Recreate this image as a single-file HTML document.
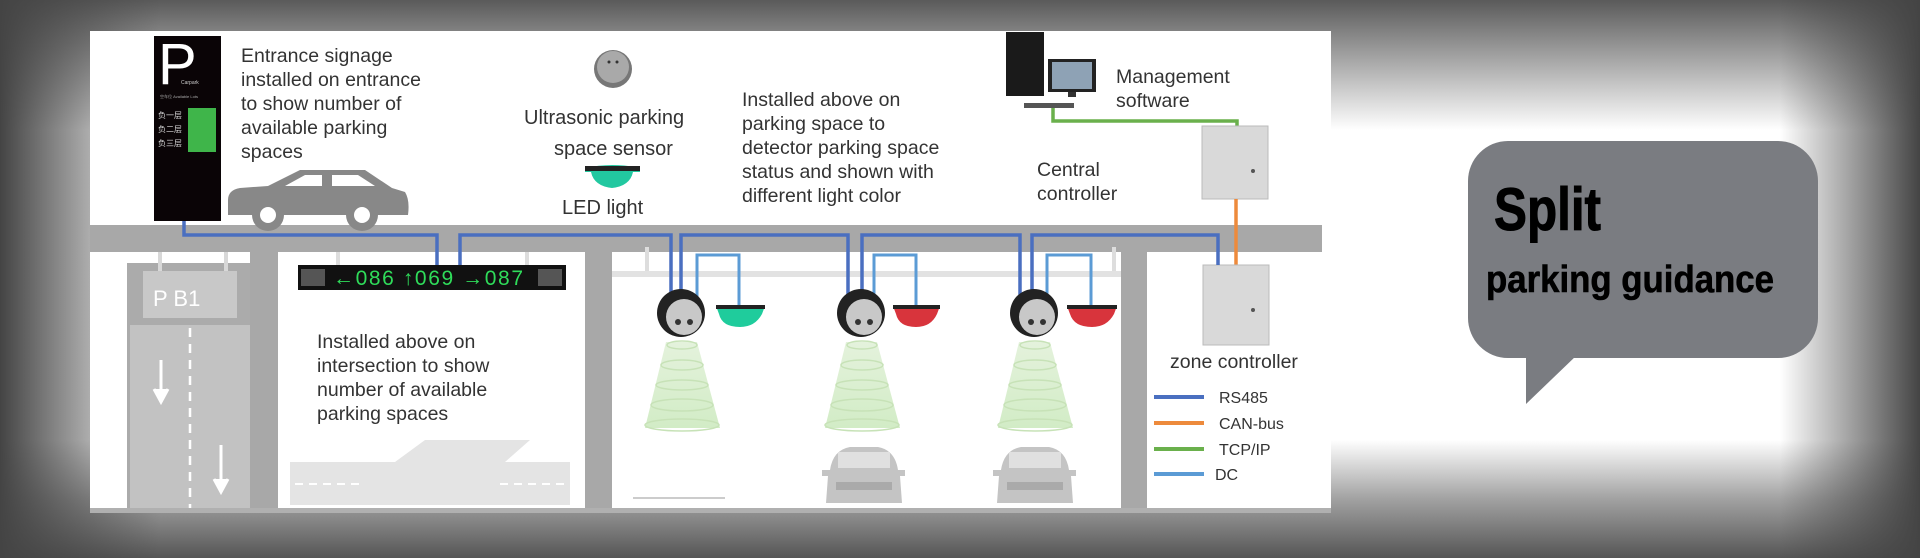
<!DOCTYPE html>
<html><head><meta charset="utf-8"><style>
html,body{margin:0;padding:0;width:1920px;height:558px;overflow:hidden;background:#fff}
svg{display:block}
text{font-family:"Liberation Sans",sans-serif}
</style></head><body>
<svg width="1920" height="558" viewBox="0 0 1920 558" xmlns="http://www.w3.org/2000/svg">
<defs>
<linearGradient id="gt" x1="0" y1="0" x2="0" y2="1"><stop offset="0" stop-color="#5a5a5a"/><stop offset="1" stop-color="#5a5a5a" stop-opacity="0"/></linearGradient>
<linearGradient id="gb" x1="0" y1="1" x2="0" y2="0"><stop offset="0" stop-color="#555"/><stop offset="0.5" stop-color="#555" stop-opacity="0.55"/><stop offset="1" stop-color="#555" stop-opacity="0"/></linearGradient>
<linearGradient id="gl" x1="0" y1="0" x2="1" y2="0"><stop offset="0" stop-color="#444"/><stop offset="1" stop-color="#444" stop-opacity="0"/></linearGradient>
<linearGradient id="gr" x1="1" y1="0" x2="0" y2="0"><stop offset="0" stop-color="#444"/><stop offset="1" stop-color="#444" stop-opacity="0"/></linearGradient>
<linearGradient id="cone" x1="0" y1="0" x2="0" y2="1"><stop offset="0" stop-color="#e4f2dc"/><stop offset="1" stop-color="#d2ecc6"/></linearGradient>
</defs>
<rect width="1920" height="558" fill="#fff"/>
<rect x="0" y="0" width="1920" height="130" fill="url(#gt)"/>
<rect x="0" y="440" width="1920" height="118" fill="url(#gb)"/>
<rect x="0" y="0" width="160" height="558" fill="url(#gl)"/>
<rect x="1780" y="0" width="140" height="558" fill="url(#gr)"/>

<rect x="90" y="31" width="1241" height="482" fill="#fff"/>
<rect x="90" y="225" width="1232" height="27" fill="#a8a8a8"/>
<rect x="90" y="252" width="160" height="11" fill="#fff"/>
<rect x="127" y="263" width="123" height="250" fill="#ababab"/>
<rect x="130" y="325" width="120" height="188" fill="#c2c2c2"/>
<rect x="158" y="252" width="4" height="20" fill="#d8d8d8"/><rect x="224" y="252" width="4" height="20" fill="#d8d8d8"/>
<rect x="143" y="271" width="94" height="47" fill="#c8c8c8"/>
<text x="153" y="306" font-size="22" fill="#fff">P  B1</text>
<line x1="190" y1="328" x2="190" y2="512" stroke="#fff" stroke-width="2.5" stroke-dasharray="9,7"/>
<path d="M161 360V395M154 389L161 402L168 389" stroke="#fff" stroke-width="3" fill="#fff"/>
<path d="M221 445V485M214 479L221 492L228 479" stroke="#fff" stroke-width="3" fill="#fff"/>
<rect x="250" y="252" width="28" height="261" fill="#a8a8a8"/>
<rect x="585" y="252" width="27" height="261" fill="#a8a8a8"/>
<rect x="1121" y="252" width="26" height="261" fill="#a8a8a8"/>
<rect x="1322" y="225" width="9" height="288" fill="#fff"/>
<rect x="612" y="271" width="509" height="6" fill="#e2e2e2"/>
<rect x="645" y="247" width="4" height="24" fill="#ddd"/><rect x="1112" y="247" width="4" height="24" fill="#ddd"/>
<rect x="336" y="252" width="4" height="14" fill="#ddd"/><rect x="525" y="252" width="4" height="14" fill="#ddd"/>
<rect x="90" y="508" width="1241" height="5" fill="#b0b0b0"/>
<path d="M290 462 L395 462 L425 440 L530 440 L505 462 L570 462 L570 505 L485 505 L455 505 L290 505Z" fill="#e4e4e4"/>
<line x1="295" y1="484" x2="360" y2="484" stroke="#fff" stroke-width="2" stroke-dasharray="8,6"/>
<line x1="500" y1="484" x2="568" y2="484" stroke="#fff" stroke-width="2" stroke-dasharray="8,6"/>

<rect x="154" y="36" width="67" height="185" fill="#0a0406"/>
<text x="158" y="84" font-size="58" fill="#fff">P</text>
<text x="181" y="84" font-size="5" fill="#ccc">Carpark</text>
<text x="160" y="98" font-size="4" fill="#aaa">空车位 Available Lots</text>
<rect x="188" y="108" width="28" height="44" fill="#3fb54a"/>
<text x="158" y="118" font-size="8" fill="#ddd">负一层</text>
<text x="158" y="132" font-size="8" fill="#ddd">负二层</text>
<text x="158" y="146" font-size="8" fill="#ddd">负三层</text>
<g font-size="19.5" fill="#333">
<text x="241" y="62">Entrance signage</text>
<text x="241" y="86">installed on entrance</text>
<text x="241" y="110">to show number of</text>
<text x="241" y="134">available parking</text>
<text x="241" y="158">spaces</text>
</g>
<path d="M228 200 Q228 190 240 188 L268 186 L300 170 L365 170 L392 188 L405 192 Q410 200 408 215 L228 215Z" fill="#888"/>
<path d="M285 186 L305 175 L322 175 L322 186Z M332 175 L358 175 L375 186 L332 186Z" fill="#fff"/>
<circle cx="268" cy="215" r="16" fill="#888"/><circle cx="268" cy="215" r="8" fill="#fff"/>
<circle cx="362" cy="215" r="16" fill="#888"/><circle cx="362" cy="215" r="8" fill="#fff"/>

<circle cx="613" cy="69" r="19" fill="#777"/><circle cx="613" cy="67" r="16" fill="#a9a9a9"/>
<circle cx="609" cy="62" r="1.5" fill="#333"/><circle cx="617" cy="62" r="1.5" fill="#333"/>
<g font-size="20" fill="#333">
<text x="524" y="124">Ultrasonic parking</text>
<text x="554" y="155">space sensor</text>
<text x="562" y="214">LED light</text>
</g>
<path d="M585 168 Q612 162 640 168 L640 172 L633 172 Q630 186 612 188 Q594 186 591 172 L585 172Z" fill="#22c8a0"/>
<rect x="585" y="166" width="55" height="5" fill="#222"/>
<g font-size="19.5" fill="#333">
<text x="742" y="106">Installed above on</text>
<text x="742" y="130">parking space to</text>
<text x="742" y="154">detector parking space</text>
<text x="742" y="178">status and shown with</text>
<text x="742" y="202">different light color</text>
</g>

<rect x="298" y="265" width="268" height="25" fill="#111"/>
<text x="333" y="285" font-size="21" fill="#2fdc5a" font-family="Liberation Mono,monospace" textLength="190">←086 ↑069 →087</text>
<rect x="301" y="269" width="24" height="17" fill="#555"/><rect x="538" y="269" width="24" height="17" fill="#555"/>
<g font-size="19.5" fill="#333">
<text x="317" y="348">Installed above on</text>
<text x="317" y="372">intersection to show</text>
<text x="317" y="396">number of available</text>
<text x="317" y="420">parking spaces</text>
</g>

<rect x="1006" y="32" width="38" height="64" fill="#1a1a1a"/>
<rect x="1048" y="59" width="48" height="33" fill="#222"/><rect x="1052" y="62" width="40" height="27" fill="#8ea2b5"/>
<rect x="1068" y="92" width="8" height="5" fill="#333"/>
<rect x="1024" y="103" width="50" height="5" fill="#555"/>
<g font-size="19.5" fill="#333">
<text x="1116" y="83">Management</text>
<text x="1116" y="107">software</text>
<text x="1037" y="176">Central</text>
<text x="1037" y="200">controller</text>
<text x="1170" y="368">zone controller</text>
</g>
<path d="M1053 108 V121 H1237 V126" stroke="#6ab04c" stroke-width="3.5" fill="none"/>
<rect x="1202" y="126" width="66" height="73" fill="#d9d9d9" stroke="#bbb"/>
<circle cx="1253" cy="171" r="2" fill="#555"/>
<line x1="1236" y1="199" x2="1236" y2="265" stroke="#ed8a3c" stroke-width="3.5"/>
<rect x="1203" y="265" width="66" height="80" fill="#d9d9d9" stroke="#bbb"/>
<circle cx="1253" cy="310" r="2" fill="#555"/>

<g stroke="#4a6fc0" stroke-width="3.5" fill="none">
<path d="M184 221 V235 H437 V265"/>
<path d="M460 265 V235 H671 V295"/>
<path d="M681 295 V235 H848 V295"/>
<path d="M862 295 V235 H1020 V295"/>
<path d="M1032 295 V235 H1218 V265"/>
</g>
<g stroke="#5b9bd5" stroke-width="3" fill="none">
<path d="M697 298 V255 H739 V306"/>
<path d="M874 298 V255 H916 V306"/>
<path d="M1047 298 V255 H1091 V306"/>
</g>

<g id="s">
<circle cx="681" cy="313" r="24" fill="#222"/><circle cx="684" cy="317" r="18" fill="#c8c8c8"/>
<circle cx="678" cy="322" r="3" fill="#333"/><circle cx="690" cy="322" r="3" fill="#333"/>
<path d="M666 342 L697 342 L720 428 L645 428Z" fill="url(#cone)"/>
<g fill="none" stroke="#c7e2b7" stroke-width="1.5">
<ellipse cx="682" cy="345" rx="15" ry="4"/><ellipse cx="682" cy="365" rx="21" ry="5"/><ellipse cx="682" cy="385" rx="26" ry="5"/><ellipse cx="682" cy="405" rx="31" ry="6"/><ellipse cx="682" cy="425" rx="37" ry="6"/></g>
</g>
<use href="#s" x="180"/><use href="#s" x="353"/>
<path d="M716 306 L765 306 L762 314 Q755 327 740 327 Q722 327 719 314Z" fill="#1fcc9c"/><rect x="716" y="305" width="49" height="4" fill="#222"/>
<path d="M893 306 L940 306 L937 314 Q931 327 916 327 Q899 327 896 314Z" fill="#d8343c"/><rect x="893" y="305" width="47" height="4" fill="#222"/>
<path d="M1067 306 L1117 306 L1114 314 Q1107 327 1092 327 Q1074 327 1070 314Z" fill="#d8343c"/><rect x="1067" y="305" width="50" height="4" fill="#222"/>

<g id="c" fill="#c4c4c4">
<path d="M830 470 Q833 450 850 447 L878 447 Q895 450 898 470 L905 470 L905 476 L900 476 L902 503 L826 503 L828 476 L822 476 L822 470Z"/>
<rect x="838" y="452" width="52" height="16" fill="#e0e0e0"/>
<rect x="836" y="482" width="56" height="8" fill="#aaa"/>
</g>
<use href="#c" x="171"/>
<rect x="633" y="497" width="92" height="2" fill="#ccc"/>

<g stroke-width="4">
<line x1="1154" y1="397" x2="1204" y2="397" stroke="#4a6fc0"/>
<line x1="1154" y1="423" x2="1204" y2="423" stroke="#ed8a3c"/>
<line x1="1154" y1="449" x2="1204" y2="449" stroke="#6ab04c"/>
<line x1="1154" y1="474" x2="1204" y2="474" stroke="#5b9bd5"/>
</g>
<g font-size="16" fill="#333">
<text x="1219" y="403">RS485</text>
<text x="1219" y="429">CAN-bus</text>
<text x="1219" y="455">TCP/IP</text>
<text x="1215" y="480">DC</text>
</g>

<rect x="1468" y="141" width="350" height="217" rx="40" fill="#7a7c81"/>
<path d="M1526 350 L1526 404 L1577 355Z" fill="#7a7c81"/>
<text x="1494" y="230" font-size="60" font-weight="bold" font-family="Liberation Sans Narrow,Liberation Sans,sans-serif" textLength="107" lengthAdjust="spacingAndGlyphs" fill="#000" stroke="#000" stroke-width="1">Split</text>
<text x="1486" y="292" font-size="38" font-weight="bold" font-family="Liberation Sans Narrow,Liberation Sans,sans-serif" textLength="288" lengthAdjust="spacingAndGlyphs" fill="#000" stroke="#000" stroke-width="0.6">parking guidance</text>
</svg>
</body></html>
